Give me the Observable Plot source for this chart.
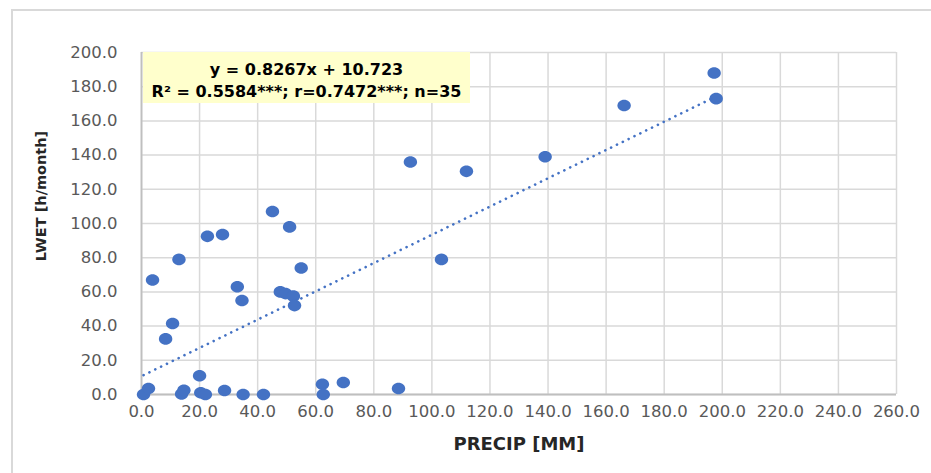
<!DOCTYPE html>
<html><head><meta charset="utf-8">
<script src="https://cdn.jsdelivr.net/npm/d3@7"></script>
<script src="https://cdn.jsdelivr.net/npm/@observablehq/plot@0.6"></script>
<style>
html,body{margin:0;padding:0;background:#fff;}
#wrap{position:relative;width:931px;height:473px;overflow:hidden;}
#chart{position:absolute;left:0;top:0;}
#border{position:absolute;left:11px;top:9px;width:960px;height:500px;border-left:2px solid #d9d9d9;border-top:2px solid #d9d9d9;}
#note{position:absolute;left:143px;top:52px;width:327px;height:51px;background:#ffffcc;font:bold 16px "DejaVu Sans",sans-serif;color:#000;text-align:center;padding-top:7px;box-sizing:border-box;}
#note div{line-height:22px;height:22px;white-space:nowrap;}
#ytitle{position:absolute;left:41px;top:196px;transform:translate(-50%,-50%) rotate(-90deg);font:bold 14.5px "DejaVu Sans",sans-serif;color:#262626;white-space:nowrap;}
</style></head><body>
<div id="wrap"><div id="border"></div><div id="chart"></div>
<div id="note"><div>y = 0.8267x + 10.723</div><div>R² = 0.5584***; r=0.7472***; n=35</div></div>
<div id="ytitle"></div>
</div>
<script>
const precip = [0.7, 2.4, 3.8, 8.3, 10.7, 12.9, 13.8, 14.6, 20.0, 20.4, 22.0, 22.7, 27.9, 28.6, 33.0, 34.6, 35.0, 42.0, 45.1, 47.8, 49.6, 51.0, 52.3, 52.7, 55.0, 62.3, 62.6, 69.5, 88.5, 92.6, 103.3, 111.9, 139.0, 166.2, 197.2, 197.9];
const lwet   = [0.0, 3.5, 67.0, 32.5, 41.5, 79.0, 0.3, 2.5, 11.0, 1.0, 0.0, 92.5, 93.5, 2.3, 63.0, 55.0, 0.0, 0.0, 107.0, 60.0, 59.0, 98.0, 57.5, 52.0, 74.0, 6.0, 0.0, 7.0, 3.5, 136.0, 79.0, 130.5, 139.0, 169.0, 188.0, 173.0];
const trendCoef = [0.8267, 10.723];
const xTicks = [0, 20, 40, 60, 80, 100, 120, 140, 160, 180, 200, 220, 240, 260];
const yTicks = [0, 20, 40, 60, 80, 100, 120, 140, 160, 180, 200];
const xTitle = "PRECIP [MM]";
const yTitle = "LWET [h/month]";

document.getElementById("ytitle").textContent = yTitle;

const points = precip.map((x, i) => ({x, y: lwet[i]}));
const trend = d3.extent(precip).map(x => ({x, y: trendCoef[0] * x + trendCoef[1]}));

const ellipse = {draw(ctx) {
  const rx = 6.7, ry = 5.8, k = 0.5523;
  ctx.moveTo(rx, 0);
  ctx.bezierCurveTo(rx, ry * k, rx * k, ry, 0, ry);
  ctx.bezierCurveTo(-rx * k, ry, -rx, ry * k, -rx, 0);
  ctx.bezierCurveTo(-rx, -ry * k, -rx * k, -ry, 0, -ry);
  ctx.bezierCurveTo(rx * k, -ry, rx, -ry * k, rx, 0);
  ctx.closePath();
}};

const blue = "#4472c4";
const chart = Plot.plot({
  width: 931, height: 473,
  marginLeft: 141, marginRight: 35, marginTop: 52, marginBottom: 79,
  style: {fontFamily: "'DejaVu Sans', sans-serif", fontSize: "16.5px", color: "#595959", background: "transparent", overflow: "visible"},
  x: {domain: [0, 260]},
  y: {domain: [0, 200]},
  marks: [
    Plot.gridX(xTicks, {stroke: "#d9d9d9", strokeOpacity: 1, strokeWidth: 1.5}),
    Plot.gridY(yTicks, {stroke: "#d9d9d9", strokeOpacity: 1, strokeWidth: 1.5}),
    Plot.ruleX([0], {stroke: "#bfbfbf", strokeWidth: 1.8}),
    Plot.ruleY([0], {stroke: "#bfbfbf", strokeWidth: 1.8}),
    Plot.axisX(xTicks, {tickSize: 0, tickPadding: 11, tickFormat: d => d.toFixed(1), fill: "#595959", label: null}),
    Plot.axisY(yTicks, {tickSize: 0, tickPadding: 24, tickFormat: d => d.toFixed(1), fill: "#595959", label: null}),
    Plot.dot(points, {x: "x", y: "y", symbol: ellipse, fill: blue, stroke: "none"}),
    Plot.line(trend, {x: "x", y: "y", stroke: blue, strokeWidth: 2.6, strokeLinecap: "round", strokeDasharray: "0.1,6.4"}),
    Plot.text([xTitle], {frameAnchor: "bottom", dy: 55, text: d => d, fontWeight: "bold", fontSize: 18, fill: "#262626"})
  ]
});
document.getElementById("chart").appendChild(chart);
</script>
</body></html>
